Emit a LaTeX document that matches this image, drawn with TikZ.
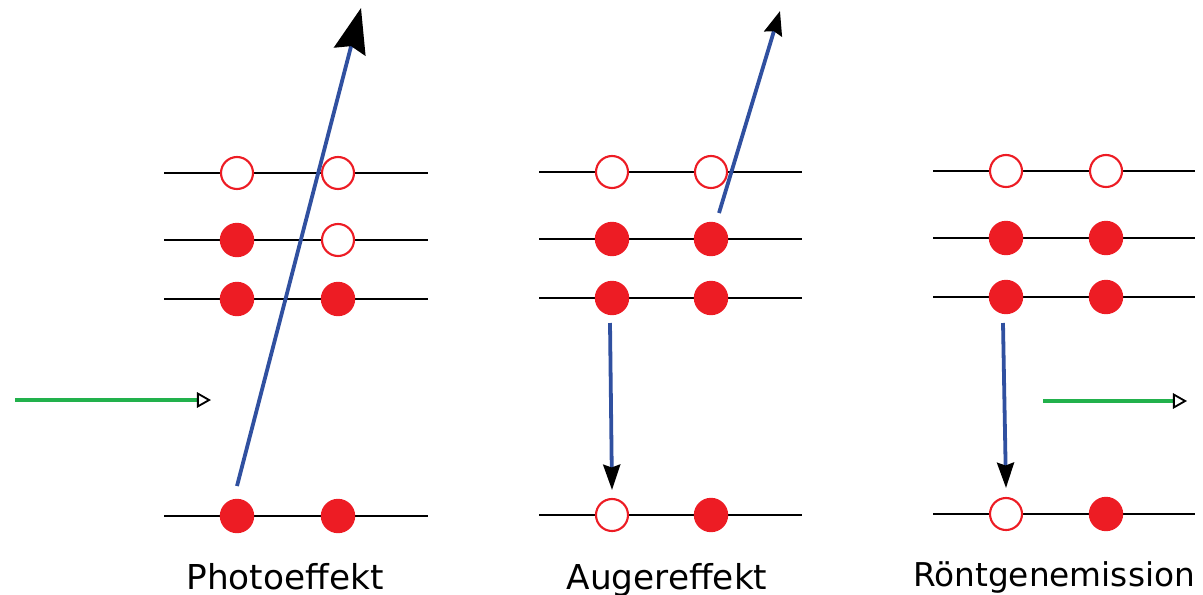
\documentclass[tikz,border=0pt]{standalone}
\usepackage{fontspec}
\setmainfont{DejaVu Sans}
\usetikzlibrary{arrows.meta}
\definecolor{ered}{RGB}{237,28,36}
\definecolor{eblue}{RGB}{48,80,160}
\definecolor{pgreen}{RGB}{34,177,76}
\tikzset{
    occ/.style={circle, fill=ered, minimum size=0.86cm, inner sep=0pt},
    hole/.style={circle, draw=ered, line width=1.5pt, fill=white, minimum size=0.8cm, inner sep=0pt},
    lvl/.style={line width=1.1pt},
    elec/.style={eblue, line width=2.7pt},
    photon/.style={pgreen, line width=2.6pt, -{Triangle[black, fill=white, length=10pt, width=11pt, line width=1.3pt]}},
    caption/.style={anchor=base, font=\fontsize{24.4}{29}\selectfont}
}
\begin{document}
\begin{tikzpicture}[x=0.025cm, y=-0.025cm]
    \useasboundingbox (0,0) rectangle (1203,594);

    % Photoeffekt
    \draw[lvl] (164,173) -- (428,173);
    \draw[lvl] (164,240) -- (428,240);
    \draw[lvl] (164,299) -- (428,299);
    \draw[lvl] (164,516) -- (428,516);
    \node[hole] (pN1) at (237,173) {};
    \node[hole] (pN2) at (338,173) {};
    \node[occ]  (pM1) at (237,240) {};
    \node[hole] (pM2) at (338,240) {};
    \node[occ]  (pL1) at (237,299) {};
    \node[occ]  (pL2) at (338,299) {};
    \node[occ]  (pK1) at (237,516) {};
    \node[occ]  (pK2) at (338,516) {};
    \coordinate (pstart) at (237,486);
    \coordinate (pend) at (361,8);
    \draw[elec, -{Stealth[black, length=32pt, width=23pt, inset=4pt]}] (pstart) -- (pend);
    \coordinate (gin) at (15,400);
    \coordinate (gout) at (211,400);
    \draw[photon] (gin) -- (gout);
    \node[caption] (lphoto) at (285,589) {Photoeffekt};

    % Augereffekt
    \draw[lvl] (539,172) -- (802,172);
    \draw[lvl] (539,239) -- (802,239);
    \draw[lvl] (539,298) -- (802,298);
    \draw[lvl] (539,515) -- (802,515);
    \node[hole] (aN1) at (612,172) {};
    \node[hole] (aN2) at (711,172) {};
    \node[occ]  (aM1) at (612,239) {};
    \node[occ]  (aM2) at (711,239) {};
    \node[occ]  (aL1) at (612,298) {};
    \node[occ]  (aL2) at (711,298) {};
    \node[hole] (aK1) at (612,515) {};
    \node[occ]  (aK2) at (711,515) {};
    \coordinate (afrom) at (610,323);
    \coordinate (ato) at (612,490);
    \draw[elec, -{Stealth[black, length=18pt, width=12pt, inset=2pt]}] (afrom) -- (ato);
    \coordinate (astart) at (719,213);
    \coordinate (aend) at (780,11);
    \draw[elec, -{Stealth[black, length=17pt, width=13pt, inset=2pt]}] (astart) -- (aend);
    \node[caption] (lauger) at (667,589) {Augereffekt};

    % Roentgenemission
    \draw[lvl] (933,171) -- (1195,171);
    \draw[lvl] (933,238) -- (1195,238);
    \draw[lvl] (933,297) -- (1195,297);
    \draw[lvl] (933,514) -- (1195,514);
    \node[hole] (rN1) at (1006,171) {};
    \node[hole] (rN2) at (1106,171) {};
    \node[occ]  (rM1) at (1006,238) {};
    \node[occ]  (rM2) at (1106,238) {};
    \node[occ]  (rL1) at (1006,297) {};
    \node[occ]  (rL2) at (1106,297) {};
    \node[hole] (rK1) at (1006,514) {};
    \node[occ]  (rK2) at (1106,514) {};
    \coordinate (rfrom) at (1003,323);
    \coordinate (rto) at (1006,488);
    \draw[elec, -{Stealth[black, length=18pt, width=12pt, inset=2pt]}] (rfrom) -- (rto);
    \coordinate (xin) at (1043,401);
    \coordinate (xout) at (1187,401);
    \draw[photon] (xin) -- (xout);
    \node[caption, font=\fontsize{23.3}{28}\selectfont] (lroent) at (1054,586) {Röntgenemission};
\end{tikzpicture}
\end{document}
